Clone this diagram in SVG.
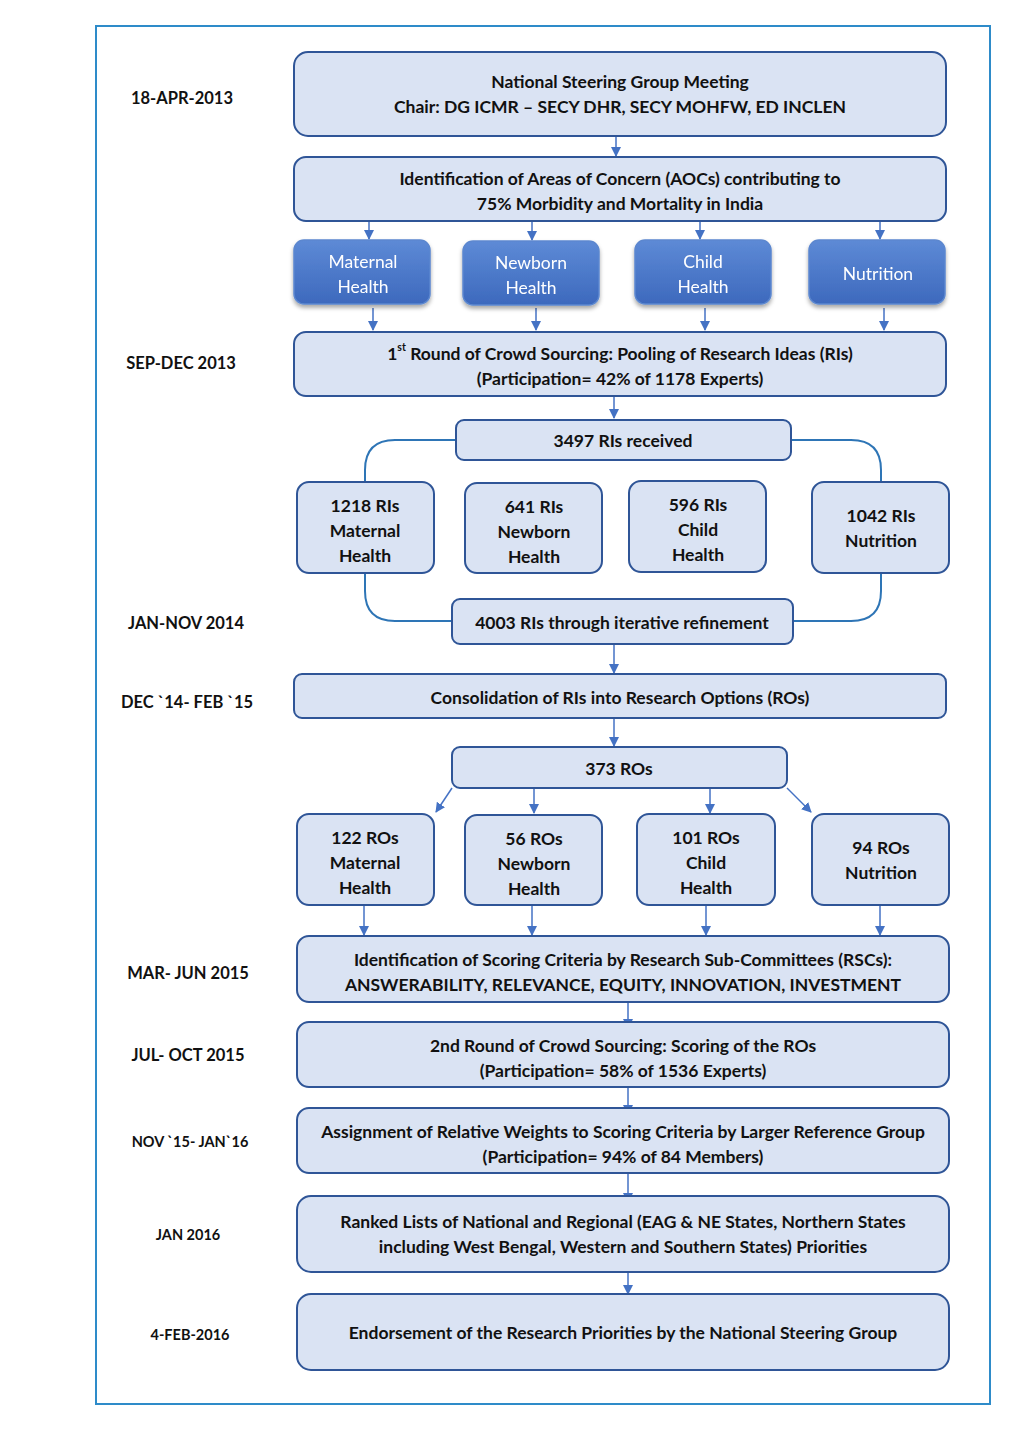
<svg xmlns="http://www.w3.org/2000/svg" width="1024" height="1448" viewBox="0 0 1024 1448">
<style>
.box{fill:#dae3f3;stroke:#2f5597;stroke-width:2}
.blue{fill:url(#bg);stroke:#5b87cf;stroke-width:1.5}
.t{font-family:Lato,"Liberation Sans",sans-serif;font-weight:bold;font-size:17.5px;fill:#111;text-anchor:middle;dominant-baseline:central}
.w{font-family:Lato,"Liberation Sans",sans-serif;font-size:17.5px;fill:#fff;text-anchor:middle;dominant-baseline:central}
.d{font-family:Lato,"Liberation Sans",sans-serif;font-weight:bold;font-size:16.5px;fill:#111;text-anchor:middle;dominant-baseline:central}
.ds{font-size:14.5px}
.a{stroke:#4472c4;stroke-width:1.5;fill:none;marker-end:url(#ah)}
.c{stroke:#2e75b6;stroke-width:2;fill:none}
</style>
<defs>
<marker id="ah" markerWidth="10" markerHeight="10" refX="9" refY="5" orient="auto" markerUnits="userSpaceOnUse">
<path d="M0,0 L10,5 L0,10 z" fill="#4472c4"/>
</marker>
<linearGradient id="bg" x1="0" y1="0" x2="0" y2="1">
<stop offset="0" stop-color="#5d8ad6"/>
<stop offset="1" stop-color="#3d69bd"/>
</linearGradient>
<filter id="sh" x="-10%" y="-10%" width="120%" height="130%">
<feDropShadow dx="0" dy="3" stdDeviation="2" flood-color="#000" flood-opacity="0.35"/>
</filter>
</defs>
<rect width="1024" height="1448" fill="#fff"/>
<rect x="96" y="26" width="894" height="1378" fill="none" stroke="#2e8bc9" stroke-width="2"/>

<g id="dates">
<text class="d" x="182" y="98">18-APR-2013</text>
<text class="d" x="181" y="363">SEP-DEC 2013</text>
<text class="d" x="186" y="623">JAN-NOV 2014</text>
<text class="d" x="187" y="702">DEC `14- FEB `15</text>
<text class="d" x="188" y="973">MAR- JUN 2015</text>
<text class="d" x="188" y="1055">JUL- OCT 2015</text>
<text class="d ds" x="190" y="1141">NOV `15- JAN`16</text>
<text class="d ds" x="188" y="1234">JAN 2016</text>
<text class="d ds" x="190" y="1334">4-FEB-2016</text>
</g>

<g id="connectors">
<line class="a" x1="616" y1="137" x2="616" y2="156"/>
<line class="a" x1="369" y1="222" x2="369" y2="239"/>
<line class="a" x1="532" y1="222" x2="532" y2="240"/>
<line class="a" x1="700" y1="222" x2="700" y2="239"/>
<line class="a" x1="880" y1="222" x2="880" y2="239"/>
<line class="a" x1="373" y1="308" x2="373" y2="330"/>
<line class="a" x1="536" y1="308" x2="536" y2="330"/>
<line class="a" x1="705" y1="308" x2="705" y2="330"/>
<line class="a" x1="884" y1="308" x2="884" y2="330"/>
<line class="a" x1="614" y1="397" x2="614" y2="418"/>
<path class="c" d="M456,440 H395 Q365,440 365,470 V482"/>
<path class="c" d="M791,440 H851 Q881,440 881,470 V482"/>
<path class="c" d="M365,573 V591 Q365,621 395,621 H452"/>
<path class="c" d="M881,573 V591 Q881,621 851,621 H793"/>
<line class="a" x1="614" y1="645" x2="614" y2="673"/>
<line class="a" x1="614" y1="719" x2="614" y2="746"/>
<line class="a" x1="452" y1="788" x2="436" y2="812"/>
<line class="a" x1="534" y1="788" x2="534" y2="813"/>
<line class="a" x1="710" y1="788" x2="710" y2="813"/>
<line class="a" x1="787" y1="788" x2="811" y2="812"/>
<line class="a" x1="364" y1="905" x2="364" y2="935"/>
<line class="a" x1="532" y1="905" x2="532" y2="935"/>
<line class="a" x1="706" y1="905" x2="706" y2="935"/>
<line class="a" x1="880" y1="905" x2="880" y2="935"/>
<line class="a" x1="628" y1="1002" x2="628" y2="1028"/>
<line class="a" x1="628" y1="1088" x2="628" y2="1114"/>
<line class="a" x1="628" y1="1174" x2="628" y2="1202"/>
<line class="a" x1="628" y1="1265" x2="628" y2="1294"/>
</g>

<g id="n1"><rect class="box" x="294" y="52" width="652" height="84" rx="14"/>
<text class="t" x="620" y="81">National Steering Group Meeting</text>
<text class="t" x="620" y="106">Chair: DG ICMR – SECY DHR, SECY MOHFW, ED INCLEN</text></g>

<g id="n2"><rect class="box" x="294" y="157" width="652" height="64" rx="12"/>
<text class="t" x="620" y="178">Identification of Areas of Concern (AOCs) contributing to</text>
<text class="t" x="620" y="203">75% Morbidity and Mortality in India</text></g>

<g id="b1" filter="url(#sh)"><rect class="blue" x="294" y="240" width="136" height="64" rx="10"/>
<text class="w" x="363" y="261">Maternal</text><text class="w" x="363" y="286">Health</text></g>
<g id="b2" filter="url(#sh)"><rect class="blue" x="463" y="241" width="136" height="64" rx="10"/>
<text class="w" x="531" y="262">Newborn</text><text class="w" x="531" y="287">Health</text></g>
<g id="b3" filter="url(#sh)"><rect class="blue" x="635" y="240" width="136" height="64" rx="10"/>
<text class="w" x="703" y="261">Child</text><text class="w" x="703" y="286">Health</text></g>
<g id="b4" filter="url(#sh)"><rect class="blue" x="809" y="240" width="136" height="64" rx="10"/>
<text class="w" x="878" y="273">Nutrition</text></g>

<g id="n3"><rect class="box" x="294" y="332" width="652" height="64" rx="12"/>
<text class="t" x="620" y="353">1<tspan font-size="10.5" dy="-6">st</tspan><tspan dy="6"> Round of Crowd Sourcing: Pooling of Research Ideas (RIs)</tspan></text>
<text class="t" x="620" y="378">(Participation= 42% of 1178 Experts)</text></g>

<g id="n4"><rect class="box" x="456" y="420" width="335" height="40" rx="8"/>
<text class="t" x="623" y="440">3497 RIs received</text></g>

<g id="r1"><rect class="box" x="297" y="482" width="137" height="91" rx="12"/>
<text class="t" x="365" y="505">1218 RIs</text><text class="t" x="365" y="530">Maternal</text><text class="t" x="365" y="555">Health</text></g>
<g id="r2"><rect class="box" x="465" y="483" width="137" height="90" rx="12"/>
<text class="t" x="534" y="506">641 RIs</text><text class="t" x="534" y="531">Newborn</text><text class="t" x="534" y="556">Health</text></g>
<g id="r3"><rect class="box" x="629" y="481" width="137" height="91" rx="12"/>
<text class="t" x="698" y="504">596 RIs</text><text class="t" x="698" y="529">Child</text><text class="t" x="698" y="554">Health</text></g>
<g id="r4"><rect class="box" x="812" y="482" width="137" height="91" rx="12"/>
<text class="t" x="881" y="515">1042 RIs</text><text class="t" x="881" y="540">Nutrition</text></g>

<g id="n5"><rect class="box" x="452" y="599" width="341" height="45" rx="8"/>
<text class="t" x="622" y="622">4003 RIs through iterative refinement</text></g>

<g id="n6"><rect class="box" x="294" y="674" width="652" height="44" rx="8"/>
<text class="t" x="620" y="697">Consolidation of RIs into Research Options (ROs)</text></g>

<g id="n7"><rect class="box" x="452" y="747" width="335" height="41" rx="8"/>
<text class="t" x="619" y="768">373 ROs</text></g>

<g id="o1"><rect class="box" x="297" y="814" width="137" height="91" rx="12"/>
<text class="t" x="365" y="837">122 ROs</text><text class="t" x="365" y="862">Maternal</text><text class="t" x="365" y="887">Health</text></g>
<g id="o2"><rect class="box" x="465" y="815" width="137" height="90" rx="12"/>
<text class="t" x="534" y="838">56 ROs</text><text class="t" x="534" y="863">Newborn</text><text class="t" x="534" y="888">Health</text></g>
<g id="o3"><rect class="box" x="637" y="814" width="138" height="91" rx="12"/>
<text class="t" x="706" y="837">101 ROs</text><text class="t" x="706" y="862">Child</text><text class="t" x="706" y="887">Health</text></g>
<g id="o4"><rect class="box" x="812" y="814" width="137" height="91" rx="12"/>
<text class="t" x="881" y="847">94 ROs</text><text class="t" x="881" y="872">Nutrition</text></g>

<g id="n8"><rect class="box" x="297" y="936" width="652" height="66" rx="12"/>
<text class="t" x="623" y="959">Identification of Scoring Criteria by Research Sub-Committees (RSCs):</text>
<text class="t" x="623" y="984">ANSWERABILITY, RELEVANCE, EQUITY, INNOVATION, INVESTMENT</text></g>

<g id="n9"><rect class="box" x="297" y="1022" width="652" height="65" rx="12"/>
<text class="t" x="623" y="1045">2nd Round of Crowd Sourcing: Scoring of the ROs</text>
<text class="t" x="623" y="1070">(Participation= 58% of 1536 Experts)</text></g>

<g id="n10"><rect class="box" x="297" y="1108" width="652" height="65" rx="12"/>
<text class="t" x="623" y="1131">Assignment of Relative Weights to Scoring Criteria by Larger Reference Group</text>
<text class="t" x="623" y="1156">(Participation= 94% of 84 Members)</text></g>

<g id="n11"><rect class="box" x="297" y="1196" width="652" height="76" rx="14"/>
<text class="t" x="623" y="1221">Ranked Lists of National and Regional (EAG &amp; NE States, Northern States</text>
<text class="t" x="623" y="1246">including West Bengal, Western and Southern States) Priorities</text></g>

<g id="n12"><rect class="box" x="297" y="1294" width="652" height="76" rx="14"/>
<text class="t" x="623" y="1332">Endorsement of the Research Priorities by the National Steering Group</text></g>
</svg>
